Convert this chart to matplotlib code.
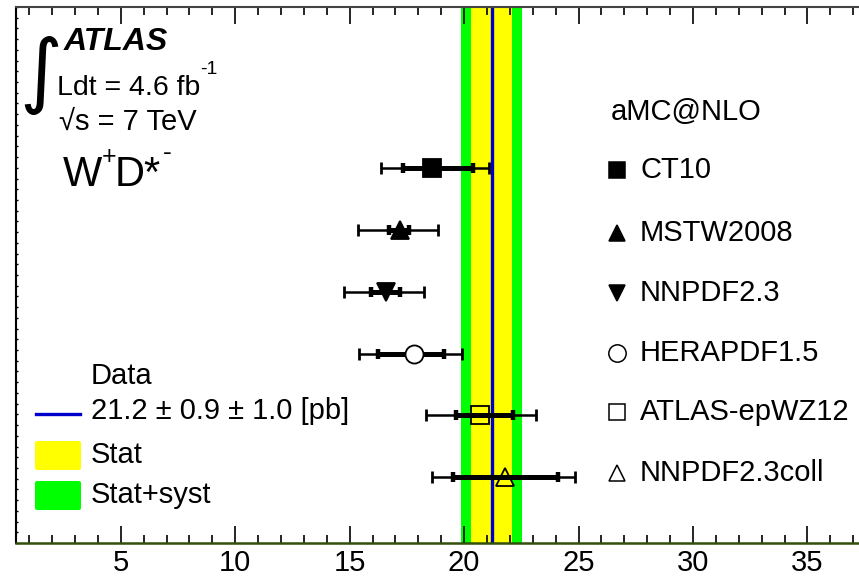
"""
W+D*- cross section: data band vs aMC@NLO predictions for several PDF sets
"""

import matplotlib

matplotlib.use("Agg")

import matplotlib.pyplot as plt
import numpy as np
from matplotlib.lines import Line2D
from matplotlib.patches import FancyBboxPatch

plt.rcParams["font.family"] = ["Liberation Sans", "DejaVu Sans"]

# measurement [pb]
data_value = 21.2
data_stat = 0.9
data_syst = 1.0

# predictions, top to bottom
pdf_sets = ["CT10", "MSTW2008", "NNPDF2.3", "HERAPDF1.5", "ATLAS-epWZ12", "NNPDF2.3coll"]
pred_value = [18.6, 17.2, 16.6, 17.8, 20.7, 21.8]
inner_lo = [1.25, 0.5, 0.65, 1.55, 1.05, 2.3]
inner_hi = [1.8, 0.4, 0.6, 1.3, 1.45, 2.3]
outer_lo = [2.25, 1.85, 1.85, 2.4, 2.35, 3.2]
outer_hi = [2.5, 1.65, 1.65, 2.1, 2.45, 3.05]
markers = ["s", "^", "v", "o", "s", "^"]
filled = [True, True, True, False, False, False]
row_y = [6, 5, 4, 3, 2, 1]

x_ticks = [5, 10, 15, 20, 25, 30, 35]

W, H = 859, 576


def px(x, y):
    # pixel position (from top-left) -> figure fraction
    return x / W, 1 - y / H


fig = plt.figure(figsize=(W / 100, H / 100), dpi=100)
ax = fig.add_axes([15.5 / W, 33 / H, (W - 15.5) / W, 536 / H])
ax.set_xlim(0.4, 37.25)
ax.set_ylim(-0.06, 8.6)

# data bands
tot = np.hypot(data_stat, data_syst)
ax.axvspan(data_value - tot, data_value + tot, color="#00ff00", lw=0, zorder=1)
ax.axvspan(data_value - data_stat, data_value + data_stat, color="#ffff00", lw=0, zorder=1)
ax.axvline(data_value, color="#0000cc", lw=2.4, zorder=2)

# predictions
for i in range(len(pdf_sets)):
    x = pred_value[i]
    y = row_y[i]
    ax.errorbar(x, y, xerr=[[outer_lo[i]], [outer_hi[i]]], fmt="none",
                ecolor="black", elinewidth=1.8, capsize=4.3, capthick=2.0, zorder=3)
    ax.errorbar(x, y, xerr=[[inner_lo[i]], [inner_hi[i]]], fmt="none",
                ecolor="black", elinewidth=3.6, capsize=3.8, capthick=3.2, zorder=3)
    ms = 13 if markers[i] in ("s", "o") else 13.5
    ax.plot(x, y, marker=markers[i], ms=ms,
            mfc="black" if filled[i] else ("none" if i > 3 else "white"),
            mec="black", mew=1.3, ls="none", zorder=4)

# axes styling
ax.set_yticks([])
ax.set_yticks(np.linspace(-0.06, 8.6, 51), minor=True)
ax.set_xticks(x_ticks)
ax.set_xticks(np.arange(1, 38), minor=True)
ax.tick_params(axis="x", which="major", direction="in", length=12.5, width=1.2,
               top=True, labelsize=21, pad=4)
ax.tick_params(axis="x", which="minor", direction="in", length=6, width=1.2, top=True)
ax.tick_params(axis="y", which="minor", direction="in", length=1.5, width=1.0)
ax.spines["right"].set_visible(False)
ax.spines["left"].set_linewidth(1.5)
ax.spines["top"].set_linewidth(1.5)
ax.spines["top"].set_color("#444444")
ax.spines["bottom"].set_linewidth(1.8)
ax.spines["bottom"].set_color("#33500a")
for s in ax.spines.values():
    s.set_zorder(5)

# ATLAS labels
fig.text(*px(64, 42), "ATLAS", fontsize=23, fontweight="bold", style="italic", va="center")
fig.text(*px(19, 76), r"$\int$", fontsize=42, va="center", math_fontfamily="dejavusans")
fig.text(*px(57, 95), "Ldt = 4.6 fb", fontsize=20.5, va="baseline")
fig.text(*px(200, 74), "-1", fontsize=14, va="baseline")
fig.text(*px(59, 130), "√s = 7 TeV", fontsize=21, va="baseline")

# channel label W+D*-
fig.text(*px(63, 186), "W", fontsize=30, va="baseline")
fig.text(*px(102, 164), "+", fontsize=18, va="baseline")
fig.text(*px(115, 186), "D*", fontsize=30, va="baseline")
fig.text(*px(163, 160), "-", fontsize=19, va="baseline")

# data legend
fig.text(*px(91, 376), "Data", fontsize=21, va="center")
fig.add_artist(Line2D([36 / W, 80 / W], [1 - 414 / H] * 2, color="#0000cc", lw=2.4))
fig.text(*px(91, 411), "21.2 ± 0.9 ± 1.0 [pb]", fontsize=21, va="center")
for y0, col, lab in [(440, "#ffff00", "Stat"), (480, "#00ff00", "Stat+syst")]:
    fig.add_artist(FancyBboxPatch((35 / W, 1 - (y0 + 30) / H), 46 / W, 29 / H,
                                  boxstyle="round,pad=0,rounding_size=0.003",
                                  transform=fig.transFigure, color=col, lw=0))
    fig.text(*px(91, y0 + 15), lab, fontsize=21, va="center")

# prediction legend
fig.text(*px(611, 112), "aMC@NLO", fontsize=21, va="center")
legend_y = [170, 233, 293, 353, 412, 473]
for i, lab in enumerate(pdf_sets):
    fx, fy = px(617, legend_y[i])
    fig.add_artist(Line2D([fx], [fy], marker=markers[i], ms=12 if markers[i] != "o" else 12.5,
                          mfc="black" if filled[i] else "white", mec="black", mew=1.1,
                          ls="none", transform=fig.transFigure))
    fig.text(*px(640, legend_y[i]), lab, fontsize=21, va="center")

fig.savefig("out.png", dpi=100)
